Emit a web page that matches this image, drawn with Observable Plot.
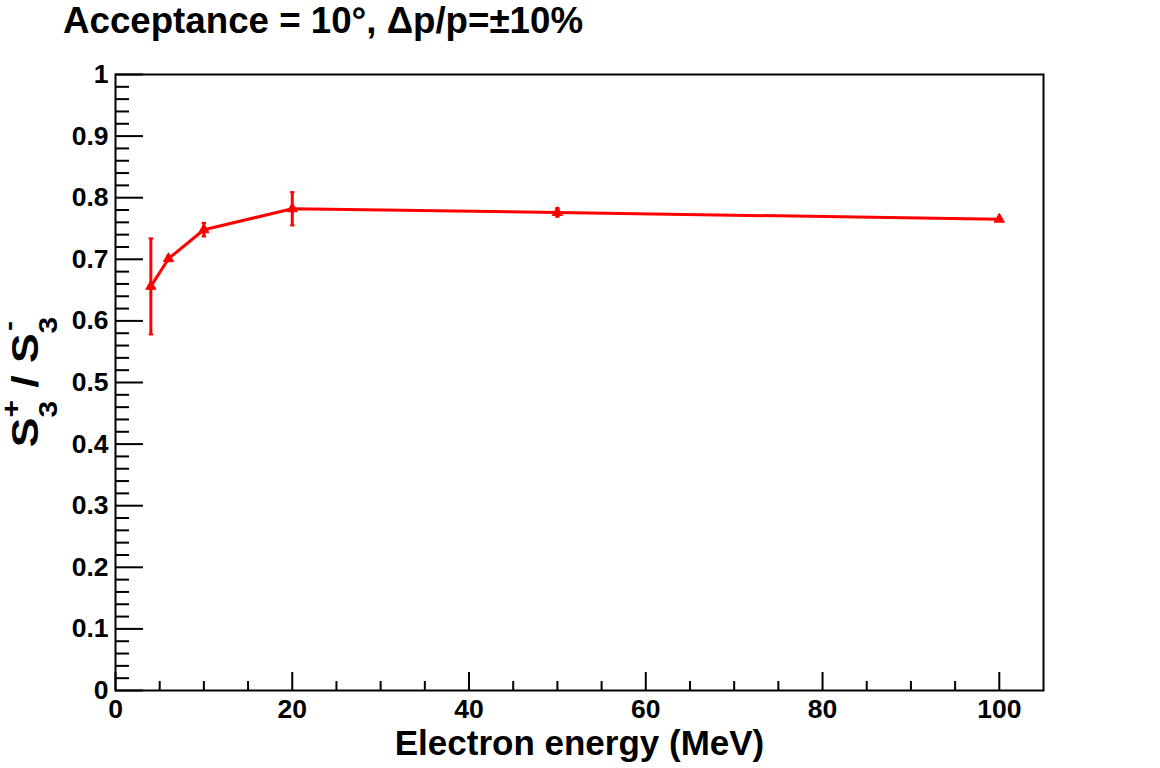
<!DOCTYPE html>
<html><head><meta charset="utf-8">
<script src="https://cdn.jsdelivr.net/npm/d3@7"></script>
<script src="https://cdn.jsdelivr.net/npm/@observablehq/plot@0.6"></script>
<style>
body{margin:0;background:#fff;}
#wrap{position:relative;width:1160px;height:768px;}
#title{position:absolute;left:63px;top:0px;font:bold 36.7px "Liberation Sans",Arial,sans-serif;color:#000;white-space:nowrap;}
</style></head><body>
<div id="wrap"><div id="title">Acceptance = 10°, Δp/p=±10%</div></div>
<script>
const energy = [4, 6, 10, 20, 50, 100];
const ratio = [0.656, 0.701, 0.748, 0.782, 0.776, 0.765];
const ratioErr = [0.078, 0.004, 0.011, 0.027, 0.007, 0.003];
const xMajorTicks = [0, 20, 40, 60, 80, 100];
const xMinorTicks = [5, 10, 15, 25, 30, 35, 45, 50, 55, 65, 70, 75, 85, 90, 95];
const yMajorTicks = [0, 0.1, 0.2, 0.3, 0.4, 0.5, 0.6, 0.7, 0.8, 0.9, 1];
const yMinorTicks = [0.02,0.04,0.06,0.08,0.12,0.14,0.16,0.18,0.22,0.24,0.26,0.28,0.32,0.34,0.36,0.38,0.42,0.44,0.46,0.48,0.52,0.54,0.56,0.58,0.62,0.64,0.66,0.68,0.72,0.74,0.76,0.78,0.82,0.84,0.86,0.88,0.92,0.94,0.96,0.98];
const xLabel = "Electron energy (MeV)";

const data = energy.map((e, i) => ({e, r: ratio[i], lo: ratio[i] - ratioErr[i], hi: ratio[i] + ratioErr[i]}));

const W = 1160, H = 768, mL = 115, mR = 117, mT = 74, mB = 78;
const fW = W - mL - mR, fH = H - mT - mB;
const red = "#ff0000";
const capSymbol = {draw(ctx, size) { const w = Math.sqrt(size) / 2; ctx.moveTo(-w, 0); ctx.lineTo(w, 0); }};

const chart = Plot.plot({
  width: W, height: H,
  marginLeft: mL, marginRight: mR, marginTop: mT, marginBottom: mB,
  x: {domain: [0, 105]},
  y: {domain: [0, 1]},
  style: {fontFamily: "'Liberation Sans', Arial, sans-serif", fontWeight: "bold", fontSize: "26px", color: "#000", background: "#fff"},
  marks: [
    Plot.tickY(yMinorTicks, {y: d => d, insetRight: fW - 14, strokeWidth: 2}),
    Plot.tickY(yMajorTicks, {y: d => d, insetRight: fW - 28, strokeWidth: 2}),
    Plot.tickX(xMinorTicks, {x: d => d, insetTop: fH - 9, strokeWidth: 2}),
    Plot.tickX(xMajorTicks, {x: d => d, insetTop: fH - 18, strokeWidth: 2}),
    Plot.axisY(yMajorTicks, {tickSize: 0, tickPadding: 7, label: null, tickFormat: d => String(d), fill: "#000", fontSize: 26.5, fontWeight: "bold"}),
    Plot.axisX(xMajorTicks, {tickSize: 0, tickPadding: 9, label: null, tickFormat: d => String(d), fill: "#000", fontSize: 26.5, fontWeight: "bold"}),
    Plot.text([xLabel], {text: d => d, frameAnchor: "bottom", dy: 64, fontSize: 35, fontWeight: "bold", fill: "#000"}),
    Plot.ruleX(data, {x: "e", y1: "lo", y2: "hi", stroke: red, strokeWidth: 3}),
    Plot.dot(data, {x: "e", y: "lo", symbol: capSymbol, r: 2.5, stroke: red, strokeWidth: 2}),
    Plot.dot(data, {x: "e", y: "hi", symbol: capSymbol, r: 2.5, stroke: red, strokeWidth: 2}),
    Plot.line(data, {x: "e", y: "r", stroke: red, strokeWidth: 3}),
    Plot.dot(data, {x: "e", y: "r", symbol: "triangle", r: 3.8, fill: red, stroke: red, strokeWidth: 1}),
    Plot.frame({stroke: "#000", strokeWidth: 2})
  ]
});
document.getElementById("wrap").prepend(chart);

// rotated y-axis label S3+ / S3-
const svg = d3.select(chart.tagName.toLowerCase() === "svg" ? chart : chart.querySelector("svg"));
const subW = 0.556 * 25;
const t = svg.append("text")
  .attr("transform", `translate(38, ${mT + fH / 2}) rotate(-90) scale(1.2, 1)`)
  .attr("text-anchor", "middle")
  .attr("font-family", "'Liberation Sans', Arial, sans-serif")
  .attr("font-weight", "bold")
  .attr("font-size", 37)
  .attr("fill", "#000");
t.append("tspan").text("S");
t.append("tspan").attr("font-size", 25).attr("dy", 19).text("3");
t.append("tspan").attr("font-size", 25).attr("dx", -subW).attr("dy", -37).text("+");
t.append("tspan").attr("dy", 18).text(" / S");
t.append("tspan").attr("font-size", 25).attr("dy", 19).text("3");
t.append("tspan").attr("font-size", 25).attr("dx", -subW + 2).attr("dy", -40).text("-");
</script>
</body></html>
